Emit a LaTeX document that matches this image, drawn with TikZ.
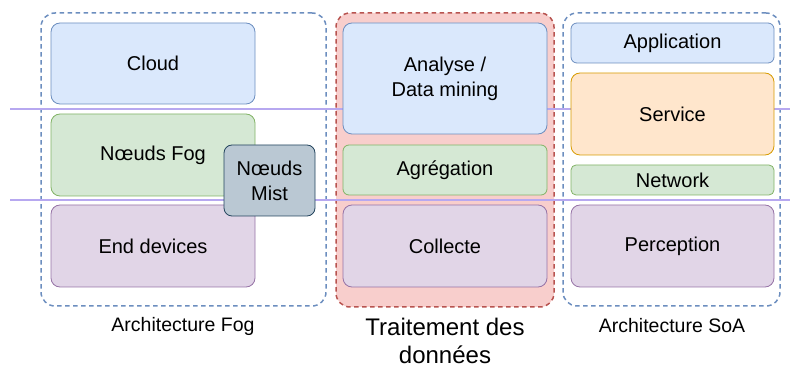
\documentclass[tikz,border=0pt]{standalone}
\usepackage{fontspec}
\setmainfont{Liberation Sans}
\usetikzlibrary{backgrounds}

\definecolor{bleuF}{HTML}{DAE8FC}
\definecolor{bleuD}{HTML}{6C8EBF}
\definecolor{vertF}{HTML}{D5E8D4}
\definecolor{vertD}{HTML}{82B366}
\definecolor{violF}{HTML}{E1D5E7}
\definecolor{violD}{HTML}{9673A6}
\definecolor{orF}{HTML}{FFE6CC}
\definecolor{orD}{HTML}{D79B00}
\definecolor{grisF}{HTML}{BAC8D3}
\definecolor{grisD}{HTML}{23445D}
\definecolor{rougeF}{HTML}{F8CECC}
\definecolor{rougeD}{HTML}{B85450}
\definecolor{ligne}{HTML}{B7A8F0}

\tikzset{
  bloc/.style={draw, line width=0.8pt, rounded corners=9pt, inner sep=0pt,
    align=center, font=\fontsize{20}{25}\selectfont},
  cadre/.style={draw=bleuD, line width=1.5pt, dash pattern=on 4.5pt off 3.5pt,
    rounded corners=14pt, inner sep=0pt},
  legende/.style={font=\fontsize{19.5}{23}\selectfont, align=center},
}

\begin{document}
\begin{tikzpicture}[x=1pt,y=-1pt]
      \useasboundingbox (0,0) rectangle (790,371) ;
      % conteneurs
      \node[cadre, minimum width=285pt, minimum height=293pt] (fog) at (183.5,159.5) {} ;
      \node[cadre, draw=rougeD, fill=rougeF, minimum width=218pt, minimum height=294pt] (trt) at (445,160) {} ;
      \node[cadre, minimum width=217pt, minimum height=293pt] (soa) at (671.5,159.5) {} ;
      % lignes de niveau
      \coordinate (g1) at (10,109) ; \coordinate (d1) at (790,109) ;
      \coordinate (g2) at (10,200) ; \coordinate (d2) at (790,200) ;
      \draw[ligne, line width=1.6pt] (g1) -- (d1) ;
      \draw[ligne, line width=1.6pt] (g2) -- (d2) ;
      % architecture fog
      \node[bloc, draw=bleuD, fill=bleuF, minimum width=204pt, minimum height=81pt] (cloud) at (153,63.5) {Cloud} ;
      \node[bloc, draw=vertD, fill=vertF, minimum width=204pt, minimum height=82pt] (nfog) at (153,155) {Nœuds Fog} ;
      \node[bloc, draw=violD, fill=violF, minimum width=204pt, minimum height=82pt] (end) at (153,246) {End devices} ;
      \node[bloc, draw=grisD, fill=grisF, rounded corners=8pt, minimum width=91pt, minimum height=71pt] (mist) at (269.5,180.5) {Nœuds\\Mist} ;
      % traitement
      \node[bloc, draw=bleuD, fill=bleuF, minimum width=204pt, minimum height=111pt] (analyse) at (445,78.5) {Analyse /\\Data mining} ;
      \node[bloc, draw=vertD, fill=vertF, rounded corners=6pt, minimum width=204pt, minimum height=50pt] (agreg) at (445,170) {Agrégation} ;
      \node[bloc, draw=violD, fill=violF, minimum width=204pt, minimum height=82pt] (collecte) at (445,246) {Collecte} ;
      % architecture SoA
      \node[bloc, draw=bleuD, fill=bleuF, rounded corners=6pt, minimum width=203pt, minimum height=40pt] (appli) at (672.5,43) {Application} ;
      \node[bloc, draw=orD, fill=orF, minimum width=203pt, minimum height=82pt] (service) at (672.5,114) {Service} ;
      \node[bloc, draw=vertD, fill=vertF, rounded corners=5pt, minimum width=203pt, minimum height=30pt] (network) at (672.5,180) {Network} ;
      \node[bloc, draw=violD, fill=violF, minimum width=203pt, minimum height=82pt] (percep) at (672.5,246) {Perception} ;
      % legendes
      \node[legende] (lfog) at (183,326) {Architecture Fog} ;
      \node[legende] (lsoa) at (672,326) {Architecture SoA} ;
      \node[legende, font=\fontsize{24}{28}\selectfont] (ltrt) at (445,341) {Traitement des\\données} ;
\end{tikzpicture}
\end{document}
